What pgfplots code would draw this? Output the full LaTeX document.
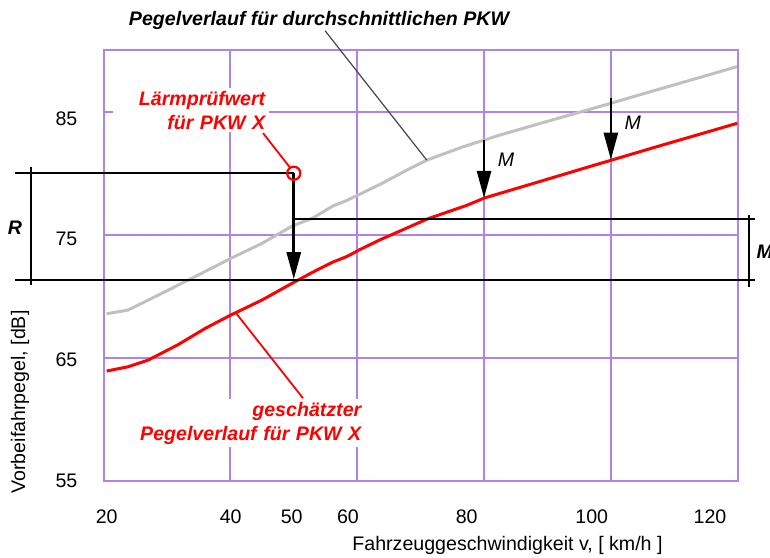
\documentclass[border=0pt]{standalone}
\usepackage{fontspec}
\setmainfont{Liberation Sans}
\usepackage{pgfplots}
\pgfplotsset{compat=1.18}
\usetikzlibrary{arrows.meta}
\definecolor{gridpurple}{RGB}{176,132,230}
\definecolor{curvegray}{RGB}{192,192,192}
\definecolor{leadgray}{RGB}{70,70,70}
\newcommand{\fs}{\fontsize{9.8}{11.8}\selectfont}
\begin{document}
\fs
\begin{tikzpicture}
\begin{axis}[
  scale only axis, width=317.1pt, height=215.65pt,
  xmin=20, xmax=120, ymin=55, ymax=90,
  clip=false,
  axis line style={draw=gridpurple, line width=1pt},
  xtick={20.5,40.06,49.67,58.55,77.27,96.98,115.63},
  xticklabels={20,40,50,60,80,100,120},
  ytick={55,64.84,74.66,84.43},
  yticklabels={55,65,75,85},
  major tick length=0pt,
  extra x ticks={40,60,80,100}, extra x tick labels={},
  extra y ticks={65,75,85}, extra y tick labels={},
  extra x tick style={grid=major}, extra y tick style={grid=major},
  major grid style={draw=gridpurple, line width=1pt},
  xticklabel style={anchor=center, yshift=-17.7pt, font=\fs},
  yticklabel style={anchor=center, xshift=-18.5pt, font=\fs},
  /pgf/number format/assume math mode=true,
  xlabel={Fahrzeuggeschwindigkeit v, [ km/h ]},
  ylabel={Vorbeifahrpegel, [dB]},
  label style={font=\fs},
  xlabel style={at={(axis description cs:0.637,-0.1477)}, anchor=center},
  ylabel style={at={(axis description cs:-0.1317,0.1839)}, anchor=center},
]
% average car
\addplot[curvegray, line width=1.5pt] coordinates {
(20.5,68.6)(23.9,68.9)(29.2,70.26)(34.4,71.6)(40.1,73.1)(44.95,74.3)(49.7,75.7)
(53.1,76.4)(56.2,77.35)(58.4,77.8)(60,78.2)(64,79.2)(67.8,80.25)(71.0,81.07)(76.7,82.15)
(82.5,83.1)(89.9,84.2)(96.7,85.19)(100,85.68)(107.2,86.76)(119.9,88.65)};
% estimated car X
\addplot[red, line width=1.5pt] coordinates {
(20.5,63.95)(23.9,64.3)(27.1,64.85)(31.8,66.1)(36.0,67.4)(40.1,68.5)(44.95,69.7)
(50.2,71.2)(53.1,72.0)(56.2,72.8)(58.4,73.25)(60.4,73.8)(63.6,74.6)(71.1,76.3)
(77.3,77.4)(80.1,78.0)(89.9,79.5)(96.7,80.55)(100,81.05)(107.2,82.15)(119.9,84.05)};
% reference lines
\addplot[black, line width=0.8pt] coordinates {(6.04,80)(50,80)};
\addplot[black, line width=0.8pt] coordinates {(6.04,71.35)(122.8,71.35)};
\addplot[black, line width=0.8pt] coordinates {(50,76.3)(122.8,76.3)};
\addplot[black, line width=0.8pt] coordinates {(8.57,80.5)(8.57,70.9)};
\addplot[black, line width=0.8pt] coordinates {(121.8,76.6)(121.8,70.75)};
% arrows
\addplot[black, line width=1.4pt, -{Triangle[length=13.5pt,width=7pt]}] coordinates {(50,80)(50,71.4)};
\addplot[black, line width=1.3pt, -{Triangle[length=13.5pt,width=7pt]}] coordinates {(80,82.7)(80,78.0)};
\addplot[black, line width=1.3pt, -{Triangle[length=13.5pt,width=7pt]}] coordinates {(100,86.13)(100,81.1)};
% test value marker
\addplot[red, only marks, mark=o, mark size=3.3pt, mark options={line width=1.1pt}] coordinates {(50,80)};
% leader lines
\addplot[leadgray, line width=0.6pt] coordinates {(54.93,91.57)(70.96,81.07)};
\addplot[red, line width=0.9pt] coordinates {(45.15,83.26)(49.35,80.5)};
\addplot[red, line width=0.9pt] coordinates {(41.0,68.58)(51.46,61.74)};
% labels
\node[font=\fs\bfseries\itshape, anchor=center] at (axis cs:53.98,92.43) {Pegelverlauf für durchschnittlichen PKW};
\node[font=\fs\bfseries\itshape, text=red, fill=white, anchor=north east, align=right, text width=74pt, inner xsep=2pt, inner ysep=1.5pt] at (axis cs:46.2,86.92) {Lärmprüfwert\\für PKW X};
\node[font=\fs\bfseries\itshape, text=red, fill=white, anchor=north east, align=right, text width=114pt, inner xsep=2pt, inner ysep=1.5pt] at (axis cs:61.34,61.68) {geschätzter\\Pegelverlauf für PKW X};
\node[font=\fs\bfseries\itshape, anchor=center, inner sep=0pt] at (axis cs:6.04,75.56) {R};
\node[font=\fs\bfseries\itshape, anchor=west, inner sep=0pt] at (axis cs:122.9,73.63) {M};
\node[font=\fs\itshape, anchor=center, inner sep=0pt] at (axis cs:83.45,81.07) {M};
\node[font=\fs\itshape, anchor=center, inner sep=0pt] at (axis cs:103.44,84.1) {M};
\coordinate (bbsw) at (axis cs:3.68,48.78);
\coordinate (bbne) at (axis cs:125.09,94.06);
\end{axis}
\pgfresetboundingbox
\useasboundingbox (bbsw) rectangle (bbne);
\end{tikzpicture}
\end{document}
